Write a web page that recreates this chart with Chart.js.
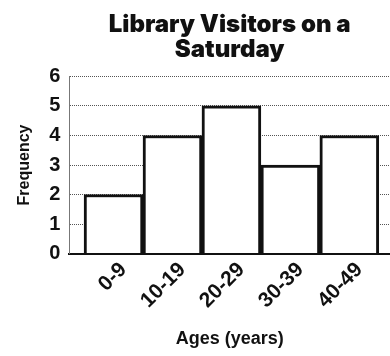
<!DOCTYPE html>
<html>
<head>
<meta charset="utf-8">
<script src="https://cdn.jsdelivr.net/npm/chart.js@4"></script>
<style>
  body { margin: 0; background: #fff; }
  #wrap { width: 390px; height: 356px; }
</style>
</head>
<body>
<div id="wrap"><canvas id="visitorsChart"></canvas></div>
<script>
// 年齢階級
const ageGroups = ['0-9', '10-19', '20-29', '30-39', '40-49'];
// 人数（度数）
const frequencies = [2, 4, 5, 3, 4];
// 縦軸の目盛り
const yTicks = [0, 1, 2, 3, 4, 5, 6];

// ヒストグラムなので各階級を x = i + 0.5 に置いて隙間なく並べる
const points = ageGroups.map((g, i) => ({ x: i + 0.5, y: frequencies[i] }));

const ctx = document.getElementById('visitorsChart').getContext('2d');
new Chart(ctx, {
  type: 'bar',
  data: {
    datasets: [{
      data: points,
      backgroundColor: '#ffffff',
      borderColor: '#111111',
      borderWidth: 3,
      barPercentage: 1,
      categoryPercentage: 1
    }]
  },
  options: {
    responsive: true,
    maintainAspectRatio: false,
    animation: false,
    layout: { padding: { top: 12, right: 0, bottom: 6, left: 11 } },
    plugins: {
      legend: { display: false },
      tooltip: { enabled: false },
      title: {
        display: true,
        fullSize: false,
        text: ['Library Visitors on a', 'Saturday'],
        color: '#111',
        font: { family: 'Inter', size: 24, weight: '900', lineHeight: 1.05 },
        padding: { top: 0, bottom: 14 }
      }
    },
    scales: {
      x: {
        type: 'linear',
        offset: false,
        min: -0.25,
        max: 5.19,
        afterBuildTicks: scale => {
          scale.ticks = ageGroups.map((g, i) => ({ value: i + 0.5 }));
        },
        grid: { display: false },
        border: { color: '#111', width: 2 },
        ticks: {
          autoSkip: false,
          minRotation: 45,
          maxRotation: 45,
          labelOffset: 10,
          padding: -4,
          color: '#111',
          font: { family: 'Liberation Sans', size: 21, weight: 'bold' },
          callback: (v, i) => ageGroups[i]
        },
        title: {
          display: true,
          text: 'Ages (years)',
          color: '#111',
          font: { family: 'Liberation Sans', size: 18, weight: 'bold' },
          padding: { top: 19, bottom: 0 }
        }
      },
      y: {
        min: 0,
        max: 6,
        afterBuildTicks: scale => {
          scale.ticks = yTicks.map(v => ({ value: v }));
        },
        grid: { color: '#555', lineWidth: 1, drawTicks: false },
        border: { color: '#777', width: 1, dash: [1, 1] },
        ticks: {
          autoSkip: false,
          padding: 9,
          color: '#111',
          font: { family: 'Liberation Sans', size: 20, weight: 'bold' }
        },
        title: {
          display: true,
          text: 'Frequency',
          color: '#111',
          font: { family: 'Liberation Sans', size: 16, weight: 'bold' },
          padding: { bottom: 6 }
        }
      }
    }
  }
});
</script>
</body>
</html>
